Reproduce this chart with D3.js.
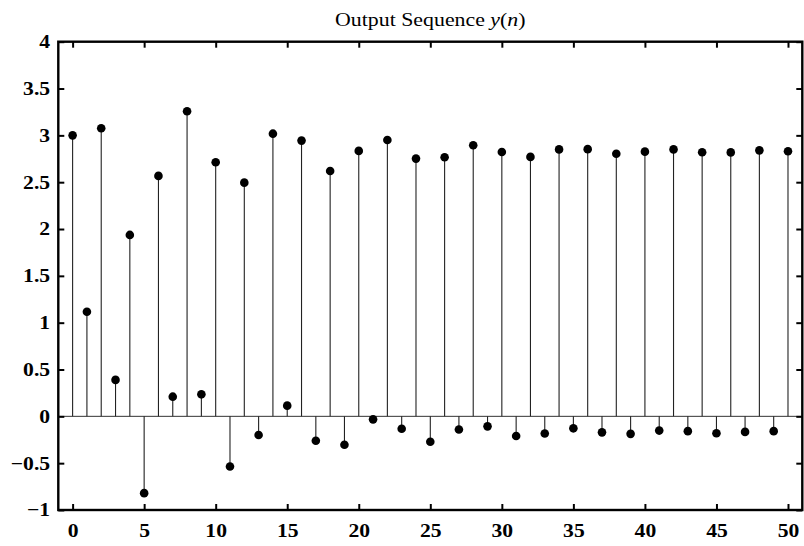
<!DOCTYPE html>
<html>
<head>
<meta charset="utf-8">
<script src="https://cdn.jsdelivr.net/npm/d3@7"></script>
<style>
  body { margin: 0; background: #fff; }
  svg { display: block; }
  .tick text { font-family: "Liberation Serif", "Times New Roman", serif; font-weight: bold; font-size: 18.5px; fill: #000; }
</style>
</head>
<body>
<svg id="chart" width="804" height="546"></svg>
<script>
// Data
const nValues = d3.range(0, 51);
const yValues = [
  3.00, 1.117, 3.076, 0.389, 1.937, -0.82, 2.567, 0.21, 3.257, 0.235,
  2.713, -0.535, 2.495, -0.199, 3.018, 0.114, 2.944, -0.26, 2.62, -0.303,
  2.834, -0.032, 2.951, -0.132, 2.752, -0.271, 2.766, -0.141, 2.894, -0.107,
  2.823, -0.21, 2.77, -0.184, 2.85, -0.128, 2.853, -0.171, 2.804, -0.187,
  2.826, -0.152, 2.85, -0.158, 2.82, -0.18, 2.818, -0.166, 2.84, -0.158,
  2.83
];
const xTicks = [0, 5, 10, 15, 20, 25, 30, 35, 40, 45, 50];
const yTicks = [-1, -0.5, 0, 0.5, 1, 1.5, 2, 2.5, 3, 3.5, 4];
const xDomain = [-1, 51];
const yDomain = [-1, 4];
const titleText = "Output Sequence ";

const svg = d3.select("#chart");
const mLeft = 58.3, mRight = 802.3, mTop = 41.7, mBottom = 510;
const stretch = 1.17;

const x = d3.scaleLinear().domain(xDomain).range([mLeft, mRight]);
const y = d3.scaleLinear().domain(yDomain).range([mBottom, mTop]);

const fmt = v => (v < 0 ? "\u2212" + Math.abs(v) : String(v));

// Baseline at zero
svg.append("line")
  .attr("x1", x(xDomain[0])).attr("x2", x(xDomain[1]))
  .attr("y1", y(0)).attr("y2", y(0))
  .attr("stroke", "#333").attr("stroke-width", 1);

// Stems
svg.append("g").selectAll("line")
  .data(nValues)
  .join("line")
  .attr("x1", (d) => x(d)).attr("x2", (d) => x(d))
  .attr("y1", y(0)).attr("y2", (d, i) => y(yValues[i]))
  .attr("stroke", "#222").attr("stroke-width", 1.1);

// Markers
svg.append("g").selectAll("circle")
  .data(nValues)
  .join("circle")
  .attr("cx", (d) => x(d))
  .attr("cy", (d, i) => y(yValues[i]))
  .attr("r", 4.3)
  .attr("fill", "#000");

// Axes
const axB = d3.axisBottom(x).tickValues(xTicks).tickFormat(fmt).tickSizeInner(-6).tickSizeOuter(0).tickPadding(13.5);
const axT = d3.axisTop(x).tickValues(xTicks).tickFormat("").tickSizeInner(-6).tickSizeOuter(0);
const axL = d3.axisLeft(y).tickValues(yTicks).tickFormat(fmt).tickSizeInner(-6).tickSizeOuter(0).tickPadding(7);
const axR = d3.axisRight(y).tickValues(yTicks).tickFormat("").tickSizeInner(-6).tickSizeOuter(0);

function style(g) {
  g.select(".domain").remove();
  g.selectAll(".tick line").attr("stroke", "#000").attr("stroke-width", 2);
  g.selectAll(".tick text").attr("transform", `scale(${stretch},1)`);
}
svg.append("g").attr("transform", `translate(0,${mBottom})`).call(axB).call(style);
svg.append("g").attr("transform", `translate(0,${mTop})`).call(axT).call(style);
svg.append("g").attr("transform", `translate(${mLeft},0)`).call(axL).call(style);
svg.append("g").attr("transform", `translate(${mRight},0)`).call(axR).call(style);

// Box
svg.append("rect")
  .attr("x", mLeft).attr("y", mTop)
  .attr("width", mRight - mLeft).attr("height", mBottom - mTop)
  .attr("fill", "none").attr("stroke", "#000").attr("stroke-width", 2.4);

// Title
const t = svg.append("g")
  .attr("transform", `translate(${(mLeft + mRight) / 2},26) scale(1.15,1)`)
  .append("text")
  .attr("x", 0).attr("y", 0)
  .attr("text-anchor", "middle")
  .attr("font-family", "'Liberation Serif', 'Times New Roman', serif")
  .attr("font-size", 19)
  .attr("fill", "#000");
t.append("tspan").text(titleText);
t.append("tspan").attr("font-style", "italic").text("y");
t.append("tspan").text("(");
t.append("tspan").attr("font-style", "italic").text("n");
t.append("tspan").text(")");
</script>
</body>
</html>
